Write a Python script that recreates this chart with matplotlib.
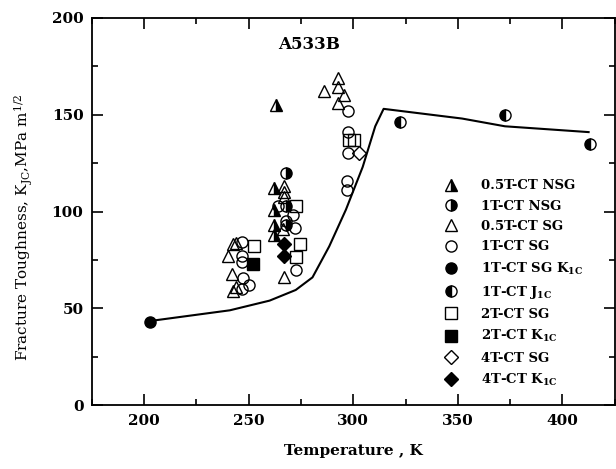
import matplotlib
matplotlib.use("Agg")
import matplotlib.pyplot as plt
from matplotlib.ticker import MultipleLocator

plt.rcParams["font.family"] = "DejaVu Serif"
plt.rcParams["font.weight"] = "bold"
plt.rcParams["mathtext.fontset"] = "dejavuserif"
plt.rcParams["mathtext.default"] = "bf"

# Trend curve
curve_x = [203, 241, 260, 272.5, 280.5, 288.5, 296.5, 304.5, 310.5, 314.5, 352, 372.5, 412.5]
curve_y = [43.5, 49, 54, 59.5, 66, 82, 101, 123, 144, 153, 148, 144, 141]

# Data series
nsg05_x = [263, 262, 262, 262, 262]
nsg05_y = [155, 112, 101, 93, 88]
nsg1_x = [268, 268, 268]
nsg1_y = [120, 103, 93]
sg05_x = [240, 242.5, 244, 242, 242.5, 244, 267, 267, 267, 266.5, 267, 286, 292.5, 292.5, 295.5, 292.5]
sg05_y = [77, 83, 84, 68, 59, 61, 113, 110, 107.5, 91, 66, 162, 169, 164.5, 160, 156]
sg1_x = [247, 247, 247, 247.5, 250, 247, 264, 271, 272, 272.5, 268, 297.5, 297.5, 297.5, 297, 297]
sg1_y = [84.5, 77, 74, 65.5, 62, 60, 103, 98, 91.5, 70, 95, 152, 141, 130, 116, 111]
sg1k_x = [203]
sg1k_y = [43]
j1c_x = [322.5, 372.5, 413]
j1c_y = [146, 150, 135]
sg2_x = [252.5, 272.5, 274.5, 272.5, 298, 300.5]
sg2_y = [82, 103, 83, 76.5, 137, 137]
k2_x = [252]
k2_y = [73]
sg4_x = [302.5]
sg4_y = [130]
k4_x = [267, 267]
k4_y = [83, 77]

fig = plt.figure(figsize=(6.16, 4.69), dpi=100)
ax = fig.add_axes([0.149, 0.136, 0.849, 0.826])

ax.plot(curve_x, curve_y, color="black", lw=1.5, zorder=1)

ms = 8
common = dict(linestyle="none", markeredgecolor="black", markeredgewidth=1.0, ms=ms)
ax.plot(nsg05_x, nsg05_y, marker="^", color="black", fillstyle="right",
        markerfacecoloralt="white", label="0.5T-CT NSG", **common)
ax.plot(nsg1_x, nsg1_y, marker="o", color="black", fillstyle="right",
        markerfacecoloralt="white", label="1T-CT NSG", **common)
ax.plot(sg05_x, sg05_y, marker="^", markerfacecolor="none", label="0.5T-CT SG", **common)
ax.plot(sg1_x, sg1_y, marker="o", markerfacecolor="none", label="1T-CT SG", **common)
ax.plot(sg1k_x, sg1k_y, marker="o", markerfacecolor="black", label="1T-CT SG K$_{1C}$", **common)
ax.plot(j1c_x, j1c_y, marker="o", color="black", fillstyle="left",
        markerfacecoloralt="white", label="1T-CT J$_{1C}$", **common)
ax.plot(sg2_x, sg2_y, marker="s", markerfacecolor="none", label="2T-CT SG", **common)
ax.plot(k2_x, k2_y, marker="s", markerfacecolor="black", label="2T-CT K$_{1C}$", **common)
ax.plot(sg4_x, sg4_y, marker="D", markerfacecolor="none", label="4T-CT SG",
        linestyle="none", markeredgecolor="black", markeredgewidth=1.0, ms=7)
ax.plot(k4_x, k4_y, marker="D", markerfacecolor="black", label="4T-CT K$_{1C}$",
        linestyle="none", markeredgecolor="black", markeredgewidth=1.0, ms=7)

ax.set_xlim(175, 425)
ax.set_ylim(0, 200)
ax.xaxis.set_major_locator(MultipleLocator(50))
ax.xaxis.set_minor_locator(MultipleLocator(25))
ax.yaxis.set_major_locator(MultipleLocator(50))
ax.yaxis.set_minor_locator(MultipleLocator(25))
ax.tick_params(which="both", direction="in", top=True, right=True, labelsize=11, width=1.2)
ax.tick_params(which="major", length=8, pad=6)
ax.tick_params(which="minor", length=4)
for s in ax.spines.values():
    s.set_linewidth(1.3)

ax.set_xlabel("Temperature , K", fontsize=11, fontweight="bold", labelpad=12)
ax.set_ylabel("Fracture Toughness, K$_{\\mathregular{JC}}$,MPa m$^{\\mathregular{1/2}}$",
              fontsize=11, fontweight="normal")
ax.yaxis.set_label_coords(-0.108, 0.46)
ax.text(0.415, 0.93, "A533B", transform=ax.transAxes, ha="center", va="center",
        fontsize=12, fontweight="bold")

ax.legend(loc="upper left", bbox_to_anchor=(0.655, 0.6), frameon=False,
          fontsize=9.5, handletextpad=1.5, labelspacing=0.55, borderpad=0,
          handlelength=1.5)

fig.savefig("out.png", dpi=100)
